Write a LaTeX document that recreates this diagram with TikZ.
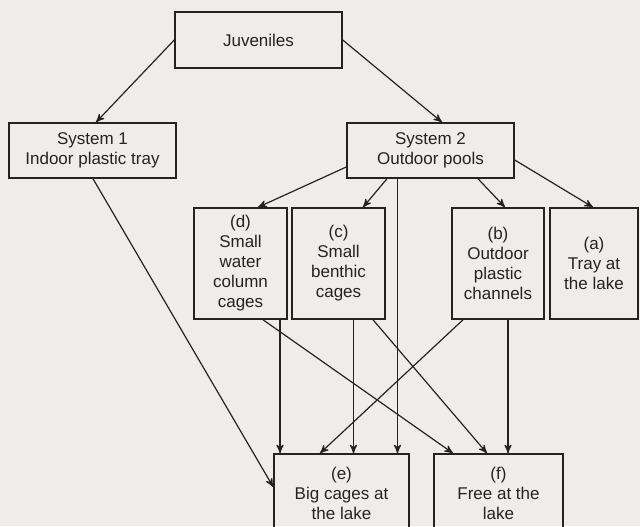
\documentclass[tikz,border=0pt]{standalone}
\usepackage{fontspec}
\setmainfont{Liberation Sans}
\usepackage{tikz}
\usetikzlibrary{arrows,calc}
\definecolor{paper}{RGB}{238,237,233}
\definecolor{ink}{RGB}{35,35,35}

\begin{document}
\begin{tikzpicture}[->,>=stealth',x=0.5pt,y=-0.5pt,semithick,draw=ink,text=ink]
  \tikzstyle{box}=[draw=ink,line width=0.75pt,fill=none,inner sep=0pt,align=center,
                   font=\fontsize{8.5}{10}\selectfont]

  \useasboundingbox (0,0) rectangle (640,526);
  \clip (0,0) rectangle (640,526);
  \fill[paper] (0,0) rectangle (640,526);

  \node[box,minimum width=83.5pt,minimum height=28pt]   (J)  at (258.5,40)  {Juveniles};
  \node[box,minimum width=83.5pt,minimum height=27.5pt] (S1) at (92.5,150.5) {System 1\\Indoor plastic tray};
  \node[box,minimum width=83.5pt,minimum height=27.5pt] (S2) at (430.5,150.5) {System 2\\Outdoor pools};
  \node[box,minimum width=46.5pt,minimum height=55.5pt] (d)  at (240.5,263.5) {(d)\\Small\\water\\column\\cages};
  \node[box,minimum width=46.5pt,minimum height=55.5pt] (c)  at (338.5,263.5) {(c)\\Small\\benthic\\cages};
  \node[box,minimum width=46pt,minimum height=55.5pt]   (b)  at (498,263.5)   {(b)\\Outdoor\\plastic\\channels};
  \node[box,minimum width=44pt,minimum height=55.5pt]   (a)  at (594,263.5)   {(a)\\Tray at\\the lake};
  \node[box,minimum width=67.5pt,minimum height=39pt]   (e)  at (341.5,493)   {(e)\\Big cages at\\the lake};
  \node[box,minimum width=64.5pt,minimum height=39pt]   (f)  at (498.5,493)   {(f)\\Free at the\\lake};

  \path (J.west) edge ($(S1.north)+(3.5,0)$)
        (J.east) edge ($(S2.north)+(11.5,0)$);

  \path ($(S2.west)+(0,16.5)$)   edge ($(d.north)+(17.5,0)$)
        ($(S2.south)+(-43.5,0)$) edge ($(c.north)+(24.5,0)$)
        ($(S2.south)+(-33,0)$)   edge ($(e.north)+(56,0)$)
        ($(S2.south)+(47.5,0)$)  edge ($(b.north)+(7,0)$)
        ($(S2.east)+(0,9.5)$)    edge ($(a.north)+(-1,0)$);

  \path ($(S1.south)+(0.5,0)$)  edge ($(e.west)+(0,-6)$)
        ($(d.south)+(39.5,0)$)  edge ($(e.north)+(-61.5,0)$)
        ($(d.south)+(22.5,0)$)  edge ($(f.north)+(-45.5,0)$)
        ($(c.south)+(15,0)$)    edge ($(e.north)+(12,0)$)
        ($(c.south)+(34.5,0)$)  edge ($(f.north)+(-11.5,0)$)
        ($(b.south)+(-35,0)$)   edge ($(e.north)+(-21.5,0)$)
        ($(b.south)+(10,0)$)    edge ($(f.north)+(9.5,0)$);
\end{tikzpicture}
\end{document}
